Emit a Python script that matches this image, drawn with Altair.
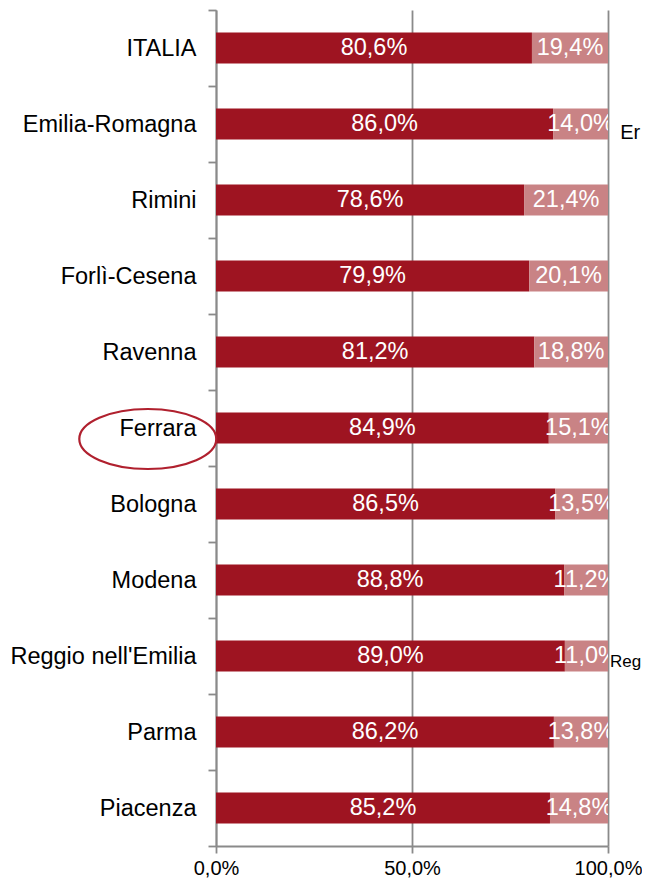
import altair as alt
import pandas as pd

categories = ["ITALIA", "Emilia-Romagna", "Rimini", "Forlì-Cesena", "Ravenna", "Ferrara",
              "Bologna", "Modena", "Reggio nell'Emilia", "Parma", "Piacenza"]
dark_values = [80.6, 86.0, 78.6, 79.9, 81.2, 84.9, 86.5, 88.8, 89.0, 86.2, 85.2]
light_values = [19.4, 14.0, 21.4, 20.1, 18.8, 15.1, 13.5, 11.2, 11.0, 13.8, 14.8]
series_names = ["dark", "light"]
series_colors = ["#9E1421", "#C98385"]
x_ticks = [0, 50, 100]

# cropped labels of the neighbouring chart visible at the right edge
edge_labels = ["Er", "Reg"]
edge_cats = ["Emilia-Romagna", "Reggio nell'Emilia"]
edge_x = [103.1, 100.5]
edge_dy = [9, 6]
edge_fs = [20, 17]

# highlight ellipse
ellipse_cat = ["Ferrara"]
ellipse_x = [-17.4]

def fmt(v):
    return f"{v:.1f}".replace(".", ",") + "%"

rows = []
for c, d, l in zip(categories, dark_values, light_values):
    rows.append({"cat": c, "series": series_names[0], "value": d, "start": 0.0, "end": d, "label": fmt(d)})
    rows.append({"cat": c, "series": series_names[1], "value": l, "start": d, "end": d + l, "label": fmt(l)})
df = pd.DataFrame(rows)
df["mid"] = (df["start"] + df["end"]) / 2

FONT = "Liberation Sans"
FS_AXIS = 23.5
FS_VAL = 23.5
GRAY = "#8A8A8A"

yscale = alt.Scale(domain=categories, paddingInner=0, paddingOuter=0)
xscale = alt.Scale(domain=[0, 100], nice=False, clamp=False)

y_enc = alt.Y("cat:N", scale=yscale, sort=categories,
              axis=alt.Axis(title=None, tickBand="extent", grid=False,
                            domainColor=GRAY, domainWidth=1.8, tickColor=GRAY, tickWidth=1.8,
                            tickSize=8, labelFont=FONT, labelFontSize=FS_AXIS, labelColor="#000000",
                            labelPadding=12, labelLimit=400))

bars = alt.Chart(df).mark_bar(height=alt.RelativeBandSize(0.405)).encode(
    x=alt.X("start:Q", scale=xscale,
            axis=alt.Axis(title=None, values=x_ticks, grid=True, gridColor=GRAY, gridWidth=1.8,
                          domainColor=GRAY, domainWidth=1.8, tickColor=GRAY, tickWidth=1.8,
                          tickSize=7, labelFont=FONT, labelFontSize=20, labelColor="#000000",
                          labelPadding=5, labelFlush=False, labelBaseline="top",
                          labelExpr="replace(format(datum.value, '.1f'), '.', ',') + '%'")),
    x2="end:Q",
    y=y_enc,
    color=alt.Color("series:N", scale=alt.Scale(domain=series_names, range=series_colors), legend=None),
)

texts = alt.Chart(df).mark_text(color="white", font=FONT, fontSize=FS_VAL, baseline="middle",
                                align="center", clip=True).encode(
    x=alt.X("mid:Q", scale=xscale),
    y=alt.Y("cat:N", scale=yscale, sort=categories),
    text="label:N",
)

edge_df = pd.DataFrame({"cat": edge_cats, "x": edge_x, "label": edge_labels})
edge_parts = []
for i in range(len(edge_labels)):
    edge_parts.append(
        alt.Chart(edge_df.iloc[[i]]).mark_text(color="#000000", font=FONT, fontSize=edge_fs[i],
                                                baseline="middle", align="left",
                                                dy=int(edge_dy[i])).encode(
            x=alt.X("x:Q", scale=xscale),
            y=alt.Y("cat:N", scale=yscale, sort=categories),
            text="label:N",
        )
    )

ell_df = pd.DataFrame({"cat": ellipse_cat, "x": ellipse_x})
ellipse = alt.Chart(ell_df).mark_point(
    shape="M -1 0 A 1 0.438 0 1 1 1 0 A 1 0.438 0 1 1 -1 0 Z",
    size=137 * 137, filled=False, stroke="#B0202E", strokeWidth=2.2, opacity=1, yOffset=11,
).encode(
    x=alt.X("x:Q", scale=xscale),
    y=alt.Y("cat:N", scale=yscale, sort=categories),
)

chart = alt.layer(bars, texts, *edge_parts, ellipse).properties(
    width=392, height=836,
    autosize=alt.AutoSizeParams(type="none"),
    padding={"left": 208, "top": 2, "right": 34, "bottom": 35},
    background="white",
).configure_view(stroke=None)

chart.save("out.html", embed_options={"renderer": "svg", "actions": False})
